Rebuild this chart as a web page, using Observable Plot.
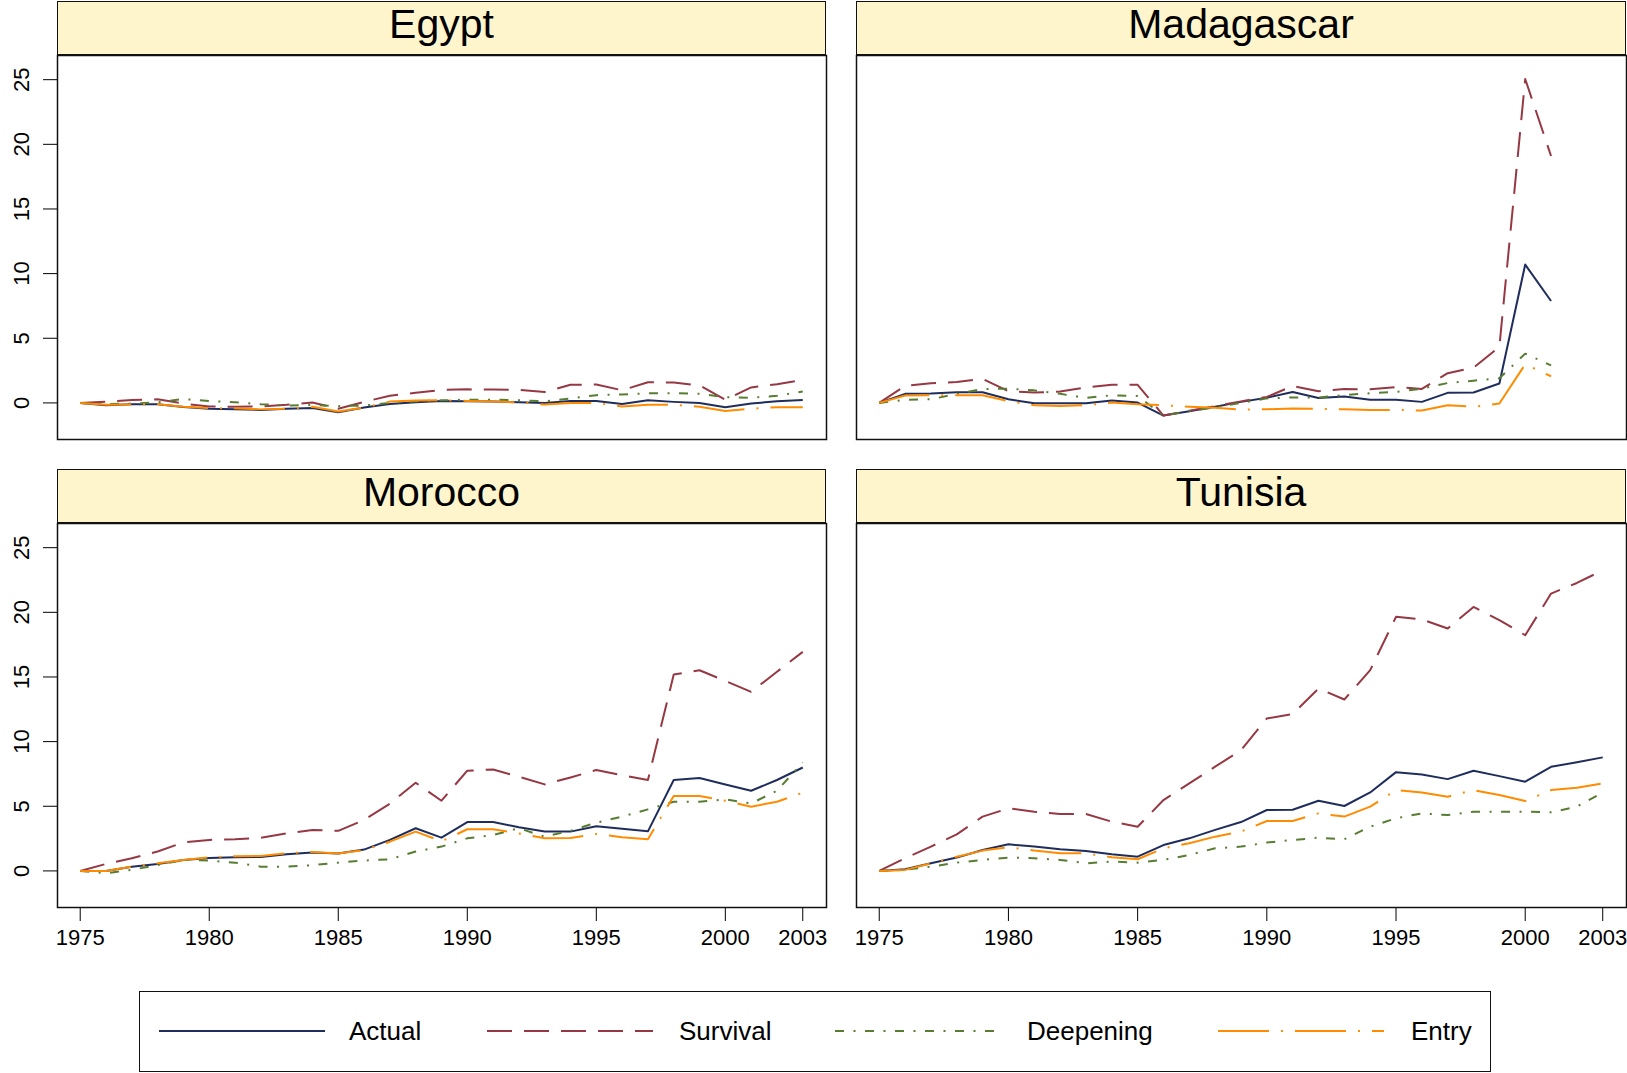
<!DOCTYPE html>
<html>
<head>
<meta charset="utf-8">
<script src="https://cdn.jsdelivr.net/npm/d3@7"></script>
<script src="https://cdn.jsdelivr.net/npm/@observablehq/plot@0.6"></script>
<style>
  html, body { margin: 0; padding: 0; background: #fff; }
  #root { position: relative; width: 1627px; height: 1073px; overflow: hidden; font-family: "Liberation Sans", Arial, Helvetica, sans-serif; color: #000; }
  .panel { position: absolute; }
  .strip { position: absolute; box-sizing: border-box; background: #fff5cc; border: 1.5px solid #111; text-align: center; font-size: 41px; line-height: 44px; }
  .legend { position: absolute; box-sizing: border-box; border: 1.5px solid #111; background: #fff; }
  .legend .sw { position: absolute; }
  .legend .lab { position: absolute; font-size: 26px; line-height: 30px; }
</style>
</head>
<body>
<div id="root"></div>
<script>
// ---------------- data ----------------
const years = [1975,1976,1977,1978,1979,1980,1981,1982,1983,1984,1985,1986,1987,1988,1989,1990,1991,1992,1993,1994,1995,1996,1997,1998,1999,2000,2001,2002,2003];
const countries = ["Egypt", "Madagascar", "Morocco", "Tunisia"];
const seriesNames = ["Actual", "Survival", "Deepening", "Entry"];
const xTickValues = [1975, 1980, 1985, 1990, 1995, 2000, 2003];
const yTickValues = [0, 5, 10, 15, 20, 25];

const egyptActual    = [0,-0.18,-0.1,-0.1,-0.31,-0.46,-0.49,-0.54,-0.46,-0.39,-0.72,-0.36,-0.08,0.05,0.15,0.13,0.1,0.05,0,0.15,0.15,-0.08,0.2,0.08,0,-0.33,-0.05,0.13,0.23];
const egyptSurvival  = [0,0.1,0.22,0.28,-0.05,-0.28,-0.3,-0.28,-0.15,0.03,-0.45,0.08,0.55,0.78,1.0,1.05,1.03,1.0,0.85,1.4,1.42,0.98,1.6,1.58,1.35,0.25,1.2,1.45,1.78];
const egyptDeepening = [0,-0.1,-0.05,0.05,0.3,0.15,0.05,-0.1,-0.2,-0.15,-0.25,-0.2,0,0.12,0.2,0.25,0.25,0.2,0.12,0.35,0.6,0.65,0.75,0.75,0.7,0.45,0.4,0.55,0.88];
const egyptEntry     = [0,-0.15,-0.12,-0.1,-0.3,-0.4,-0.42,-0.5,-0.45,-0.3,-0.67,-0.36,0.1,0.18,0.2,0.15,0.1,0.05,-0.13,0,0,-0.28,-0.15,-0.15,-0.3,-0.62,-0.45,-0.33,-0.33];

const madagascarActual    = [0,0.7,0.72,0.82,0.82,0.28,-0.03,-0.03,-0.03,0.18,0.03,-0.98,-0.64,-0.3,0.08,0.4,0.85,0.38,0.5,0.25,0.25,0.08,0.78,0.8,1.5,10.7,7.88];
const madagascarSurvival  = [0,1.31,1.52,1.62,1.85,0.9,0.8,0.88,1.2,1.4,1.4,-0.98,-0.6,-0.25,0.12,0.46,1.31,0.9,1.08,1.05,1.23,1.08,2.3,2.73,4.33,25.05,19.1];
const madagascarDeepening = [0,0.23,0.28,0.7,1.08,1.1,0.97,0.7,0.39,0.59,0.54,-0.98,-0.64,-0.35,0.0,0.35,0.42,0.42,0.6,0.75,0.85,1.1,1.54,1.72,1.9,3.81,2.9];
const madagascarEntry     = [0,0.57,0.6,0.6,0.6,0.13,-0.18,-0.23,-0.18,0.03,-0.1,-0.18,-0.3,-0.38,-0.51,-0.49,-0.44,-0.46,-0.49,-0.54,-0.54,-0.59,-0.18,-0.3,-0.05,2.99,2.06];

const moroccoActual    = [0,0,0.33,0.54,0.85,1.0,1.05,1.08,1.29,1.42,1.34,1.65,2.4,3.3,2.57,3.78,3.78,3.37,3.04,3.04,3.45,3.27,3.06,7.03,7.18,6.69,6.2,7.03,8.0];
const moroccoSurvival  = [0,0.54,0.98,1.5,2.2,2.4,2.45,2.57,2.9,3.17,3.1,3.94,5.2,6.82,5.43,7.75,7.85,7.28,6.69,7.23,7.8,7.41,7.03,15.19,15.52,14.7,13.85,15.4,16.94];
const moroccoDeepening = [0,-0.18,0.08,0.46,0.85,0.8,0.64,0.33,0.33,0.44,0.64,0.8,0.9,1.5,1.88,2.52,2.78,3.3,2.65,3.1,3.73,4.2,4.76,5.35,5.35,5.53,5.22,6.2,8.4];
const moroccoEntry     = [0,0,0.33,0.59,0.85,1.05,1.13,1.16,1.36,1.47,1.34,1.62,2.26,3.04,2.29,3.22,3.22,2.9,2.52,2.55,2.86,2.6,2.45,5.8,5.8,5.43,4.97,5.35,6.05];

const tunisiaActual    = [0,0.13,0.59,1.03,1.62,2.06,1.88,1.67,1.54,1.29,1.1,2.0,2.52,3.17,3.78,4.71,4.73,5.43,5.02,6.07,7.64,7.46,7.1,7.75,7.33,6.9,8.05,8.4,8.78];
const tunisiaSurvival  = [0,0.98,1.88,2.83,4.2,4.84,4.58,4.4,4.4,3.81,3.42,5.48,6.77,8.06,9.34,11.79,12.13,14.11,13.26,15.53,19.65,19.45,18.75,20.42,19.39,18.23,21.45,22.27,23.25];
const tunisiaDeepening = [0,0.08,0.33,0.64,0.85,1.03,0.98,0.85,0.59,0.72,0.64,0.85,1.24,1.75,1.88,2.19,2.39,2.57,2.45,3.42,4.07,4.45,4.32,4.58,4.58,4.58,4.53,4.97,6.07];
const tunisiaEntry     = [0,0.08,0.59,1.1,1.57,1.83,1.57,1.36,1.36,1.06,0.9,1.75,2.14,2.65,3.04,3.86,3.86,4.45,4.2,4.97,6.25,6.07,5.74,6.25,5.87,5.4,6.25,6.43,6.77];

// ---------------- styles ----------------
const seriesStyle = {
  Actual:    {color: "#1f2d5c", dash: null},
  Survival:  {color: "#963843", dash: "25,12"},
  Deepening: {color: "#587d32", dash: "9,9.5,2,9.5"},
  Entry:     {color: "#ff8c00", dash: "51,12,2,12"}
};

const countrySeries = {
  Egypt:      [egyptActual, egyptSurvival, egyptDeepening, egyptEntry],
  Madagascar: [madagascarActual, madagascarSurvival, madagascarDeepening, madagascarEntry],
  Morocco:    [moroccoActual, moroccoSurvival, moroccoDeepening, moroccoEntry],
  Tunisia:    [tunisiaActual, tunisiaSurvival, tunisiaDeepening, tunisiaEntry]
};

// layout (pixels)
const cols = [
  {svgLeft: 0,   marginLeft: 57, plotW: 769, marginRight: 3},
  {svgLeft: 846, marginLeft: 10, plotW: 770, marginRight: 1}
];
const rows = [
  {stripTop: 1,   svgTop: 45,  marginTop: 10, plotH: 384, marginBottom: 6},
  {stripTop: 469, svgTop: 513, marginTop: 10, plotH: 384, marginBottom: 50}
];
const stripH = 54;
const FONT = '"Liberation Sans", Arial, Helvetica, sans-serif';

const root = document.getElementById("root");

countries.forEach((country, i) => {
  const c = cols[i % 2], r = rows[Math.floor(i / 2)];
  const showX = Math.floor(i / 2) === 1;
  const showY = i % 2 === 0;
  const arrays = countrySeries[country];
  const data = [];
  seriesNames.forEach((s, k) => {
    arrays[k].forEach((v, j) => data.push({series: s, year: years[j], value: v}));
  });

  const chart = Plot.plot({
    width: c.marginLeft + c.plotW + c.marginRight,
    height: r.marginTop + r.plotH + r.marginBottom,
    marginLeft: c.marginLeft,
    marginRight: c.marginRight,
    marginTop: r.marginTop,
    marginBottom: r.marginBottom,
    style: {fontFamily: FONT, fontSize: "22px", color: "#000", background: "transparent", overflow: "visible"},
    x: {domain: [1974.12, 2003.92], axis: showX ? "bottom" : null, ticks: xTickValues, tickFormat: d => String(d), tickSize: 14, tickPadding: 8, label: null},
    y: {domain: [-2.83, 26.87], axis: showY ? "left" : null, ticks: yTickValues, tickRotate: -90, tickSize: 14, tickPadding: 15, label: null},
    marks: [
      ...seriesNames.map(s => Plot.line(data.filter(d => d.series === s), {
        x: "year", y: "value",
        stroke: seriesStyle[s].color,
        strokeWidth: 2,
        strokeDasharray: seriesStyle[s].dash,
        strokeLinecap: "butt",
        strokeLinejoin: "round"
      })),
      Plot.frame({stroke: "#111", strokeWidth: 1.5})
    ]
  });
  const wrap = document.createElement("div");
  wrap.className = "panel";
  wrap.style.left = c.svgLeft + "px";
  wrap.style.top = r.svgTop + "px";
  wrap.appendChild(chart);
  root.appendChild(wrap);

  const strip = document.createElement("div");
  strip.className = "strip";
  strip.style.left = (c.svgLeft + c.marginLeft) + "px";
  strip.style.top = r.stripTop + "px";
  strip.style.width = c.plotW + "px";
  strip.style.height = stripH + "px";
  strip.textContent = country;
  root.appendChild(strip);
});

// legend
const legend = document.createElement("div");
legend.className = "legend";
legend.style.left = "139px";
legend.style.top = "991px";
legend.style.width = "1352px";
legend.style.height = "81px";
root.appendChild(legend);
const swatchX = [19, 347, 695, 1078];
const labelX = [209, 539, 887, 1271];
seriesNames.forEach((s, k) => {
  const st = seriesStyle[s];
  const svg = d3.create("svg").attr("class", "sw").attr("width", 166).attr("height", 10)
    .style("left", swatchX[k] + "px").style("top", "34px");
  svg.append("line").attr("x1", 0).attr("x2", 166).attr("y1", 5).attr("y2", 5)
    .attr("stroke", st.color).attr("stroke-width", 2)
    .attr("stroke-dasharray", st.dash).attr("stroke-linecap", "butt");
  legend.appendChild(svg.node());
  const lab = document.createElement("div");
  lab.className = "lab";
  lab.style.left = labelX[k] + "px";
  lab.style.top = "24px";
  lab.textContent = s;
  legend.appendChild(lab);
});
</script>
</body>
</html>
